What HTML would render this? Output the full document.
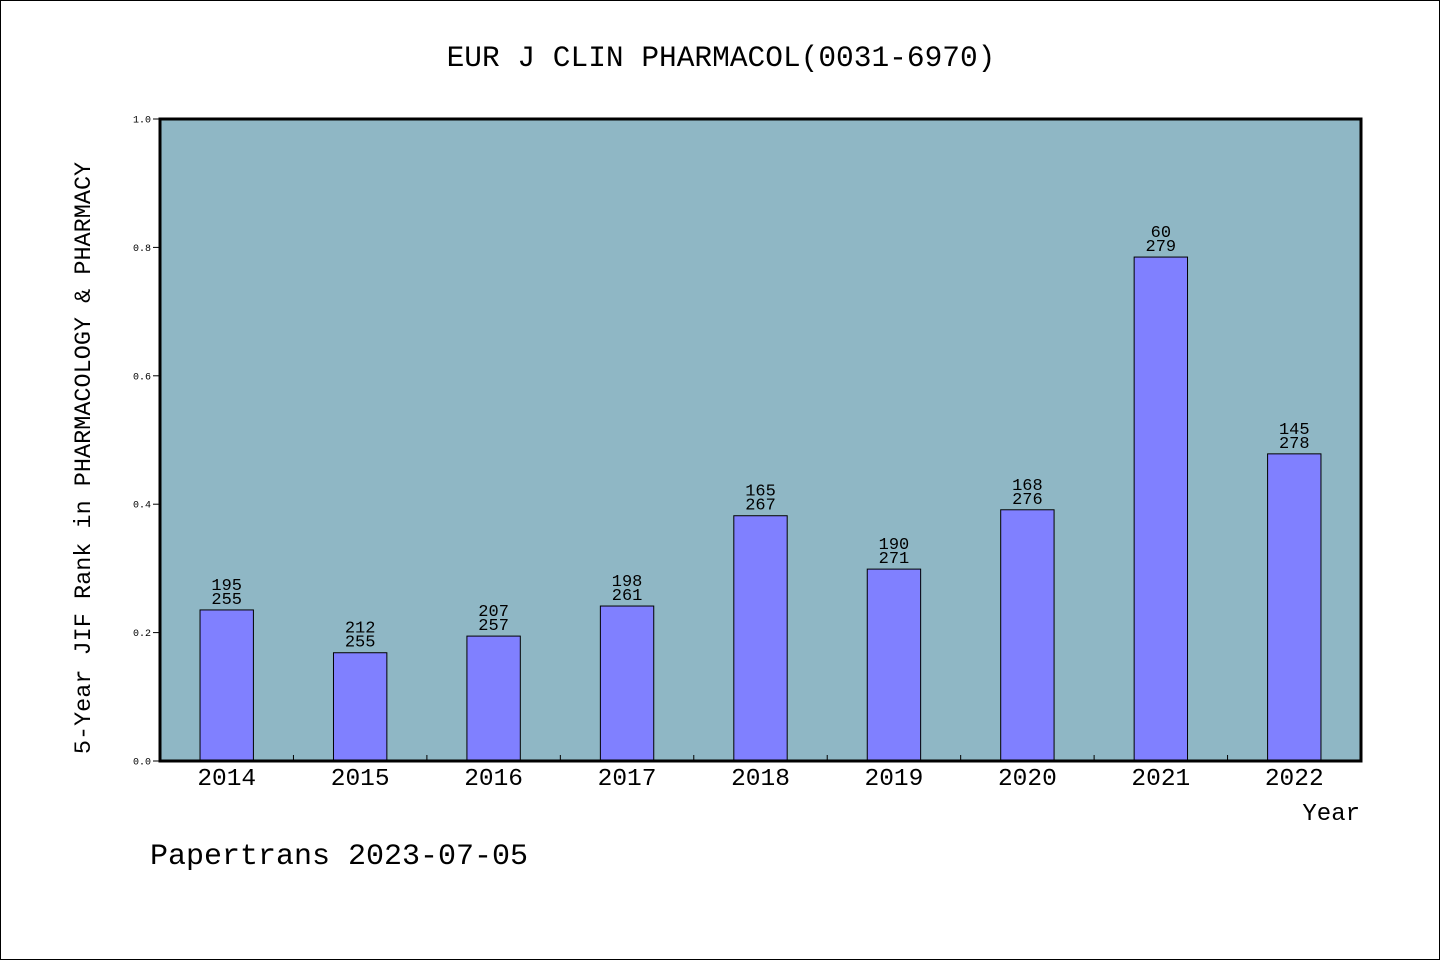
<!DOCTYPE html>
<html><head><meta charset="utf-8">
<style>
html,body{margin:0;padding:0;background:#fff;}
svg{display:block;}
text{font-family:"Liberation Mono","WenQuanYi Zen Hei",monospace;fill:#000;}
</style></head>
<body>
<svg id="chart" width="1440" height="960">
  <rect x="0.5" y="0.5" width="1439" height="959" fill="#fff" stroke="#000" stroke-width="1"/>
  <text x="721" y="66" font-size="29.5" text-anchor="middle">EUR J CLIN PHARMACOL(0031-6970)</text>
  <rect x="160" y="119" width="1201" height="642" fill="#8fb7c5"/>
  <g id="marks"></g>
  <rect x="160" y="119" width="1201" height="642" fill="none" stroke="#000" stroke-width="3"/>
  <text transform="translate(90,458) rotate(-90)" font-size="23.5" text-anchor="middle">5-Year JIF Rank in PHARMACOLOGY &amp; PHARMACY</text>
  <text x="1360" y="820" font-size="24" text-anchor="end">Year</text>
  <text x="150" y="864" font-size="30">Papertrans 2023-07-05</text>
</svg>
<script>
const categories = ["2014","2015","2016","2017","2018","2019","2020","2021","2022"];
const ranks = [195,212,207,198,165,190,168,60,145];
const totals = [255,255,257,261,267,271,276,279,278];
const yTicks = [0.0,0.2,0.4,0.6,0.8,1.0];
const yTickLabels = ["0.0","0.2","0.4","0.6","0.8","1.0"];

const NS="http://www.w3.org/2000/svg";
const X0=160,X1=1361,Y0=761,Y1=119;
const band=(X1-X0)/categories.length;
const xc=i=>X0+(i+0.5)*band;
const y=v=>Y0-(Y0-Y1)*v;
const g=document.getElementById('marks');
function mk(tag,attrs){const e=document.createElementNS(NS,tag);for(const k in attrs)e.setAttribute(k,attrs[k]);return e;}

yTicks.forEach((t,i)=>{
  const ln=mk('line',{x1:X0-7,x2:X0,y1:y(t),y2:y(t),stroke:'#000','stroke-width':1});
  
  
  g.appendChild(ln);
  const tx=mk('text',{x:X0-9,y:y(t)+3.5,'font-size':10,'text-anchor':'end'});
  tx.textContent=yTickLabels[i];
  
  
  g.appendChild(tx);
});
for(let i=1;i<categories.length;i++){
  const xb=X0+i*band;
  const ln=mk('line',{x1:xb,x2:xb,y1:Y0,y2:Y0-6,stroke:'#000','stroke-width':1});
  
  
  g.appendChild(ln);
}
const bw=band*0.4;
categories.forEach((c,i)=>{
  const v=1-ranks[i]/totals[i];
  const r=mk('rect',{x:xc(i)-bw/2,y:y(v),width:bw,height:Y0-y(v),fill:'#8080ff',stroke:'#000','stroke-width':1});
  
  
  g.appendChild(r);
  const t1=mk('text',{x:xc(i),y:y(v)-20,'font-size':17,'text-anchor':'middle'});
  t1.textContent=ranks[i];
  
  
  g.appendChild(t1);
  const t2=mk('text',{x:xc(i),y:y(v)-6,'font-size':17,'text-anchor':'middle'});
  t2.textContent=totals[i];
  
  
  g.appendChild(t2);
  const xl=mk('text',{x:xc(i),y:Y0+24,'font-size':24.5,'text-anchor':'middle'});
  xl.textContent=c;
  
  
  g.appendChild(xl);
});
</script>
</body></html>
